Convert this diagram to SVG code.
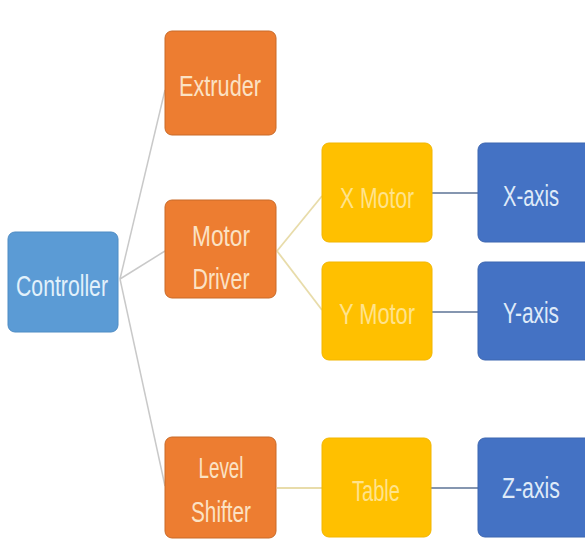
<svg xmlns="http://www.w3.org/2000/svg" width="585" height="540" viewBox="0 0 585 540">
<style>
text{font-family:"Liberation Sans",Arial,sans-serif;font-size:30px;text-anchor:middle}
.ctl rect{fill:#5b9bd5;stroke:#4f8cc4;stroke-width:1}
.ctl text{fill:#e2f1fb}
.org rect{fill:#ed7d31;stroke:#c96a28;stroke-width:1}
.org text{fill:#fbe2c4}
.yel rect{fill:#ffc000;stroke:#f2b600;stroke-width:1}
.yel text{fill:#ffe38c}
.blu rect{fill:#4472c4;stroke:#3d66b0;stroke-width:1}
.blu text{fill:#dfeaf8}
.c1{stroke:#c9c9c9;stroke-width:1.5;fill:none}
.c2{stroke:#e8dcaa;stroke-width:1.8;fill:none}
.c3{stroke:#8596b0;stroke-width:2;fill:none}
</style>
<rect width="585" height="540" fill="#ffffff"/>
<g id="connectors">
<line class="c1" x1="120" y1="279" x2="165" y2="90"/>
<line class="c1" x1="120" y1="279" x2="165" y2="251"/>
<line class="c1" x1="120" y1="279" x2="165" y2="486"/>
<line class="c2" x1="277" y1="251" x2="322" y2="196"/>
<line class="c2" x1="277" y1="251" x2="322" y2="310"/>
<line class="c2" x1="277" y1="488" x2="322" y2="488"/>
<line class="c3" x1="432" y1="193" x2="478" y2="193"/>
<line class="c3" x1="432" y1="312" x2="478" y2="312"/>
<line class="c3" x1="431" y1="488" x2="478" y2="488"/>
</g>
<g id="controller" class="ctl"><rect x="8" y="232" width="110" height="100" rx="7"/><text x="62" y="296" textLength="92" lengthAdjust="spacingAndGlyphs">Controller</text></g>
<g id="extruder" class="org"><rect x="165" y="31" width="111" height="104" rx="7"/><text x="220" y="96" textLength="82" lengthAdjust="spacingAndGlyphs">Extruder</text></g>
<g id="motor-driver" class="org"><rect x="165" y="200" width="111" height="98" rx="7"/><text x="221" y="246" textLength="58" lengthAdjust="spacingAndGlyphs">Motor</text><text x="221" y="289" textLength="57" lengthAdjust="spacingAndGlyphs">Driver</text></g>
<g id="level-shifter" class="org"><rect x="165" y="437" width="111" height="101" rx="7"/><text x="221" y="478" textLength="45" lengthAdjust="spacingAndGlyphs">Level</text><text x="221" y="522" textLength="60" lengthAdjust="spacingAndGlyphs">Shifter</text></g>
<g id="x-motor" class="yel"><rect x="322" y="143" width="110" height="99" rx="7"/><text x="377" y="208" textLength="74" lengthAdjust="spacingAndGlyphs">X Motor</text></g>
<g id="y-motor" class="yel"><rect x="322" y="262" width="110" height="98" rx="7"/><text x="377" y="324" textLength="76" lengthAdjust="spacingAndGlyphs">Y Motor</text></g>
<g id="table" class="yel"><rect x="322" y="438" width="109" height="99" rx="7"/><text x="376" y="501" textLength="48" lengthAdjust="spacingAndGlyphs">Table</text></g>
<g id="x-axis" class="blu"><rect x="478" y="143" width="114" height="99" rx="7"/><text x="531" y="206" textLength="56" lengthAdjust="spacingAndGlyphs">X-axis</text></g>
<g id="y-axis" class="blu"><rect x="478" y="262" width="114" height="98" rx="7"/><text x="531" y="323" textLength="56" lengthAdjust="spacingAndGlyphs">Y-axis</text></g>
<g id="z-axis" class="blu"><rect x="478" y="438" width="114" height="99" rx="7"/><text x="531" y="498" textLength="58" lengthAdjust="spacingAndGlyphs">Z-axis</text></g>
</svg>
